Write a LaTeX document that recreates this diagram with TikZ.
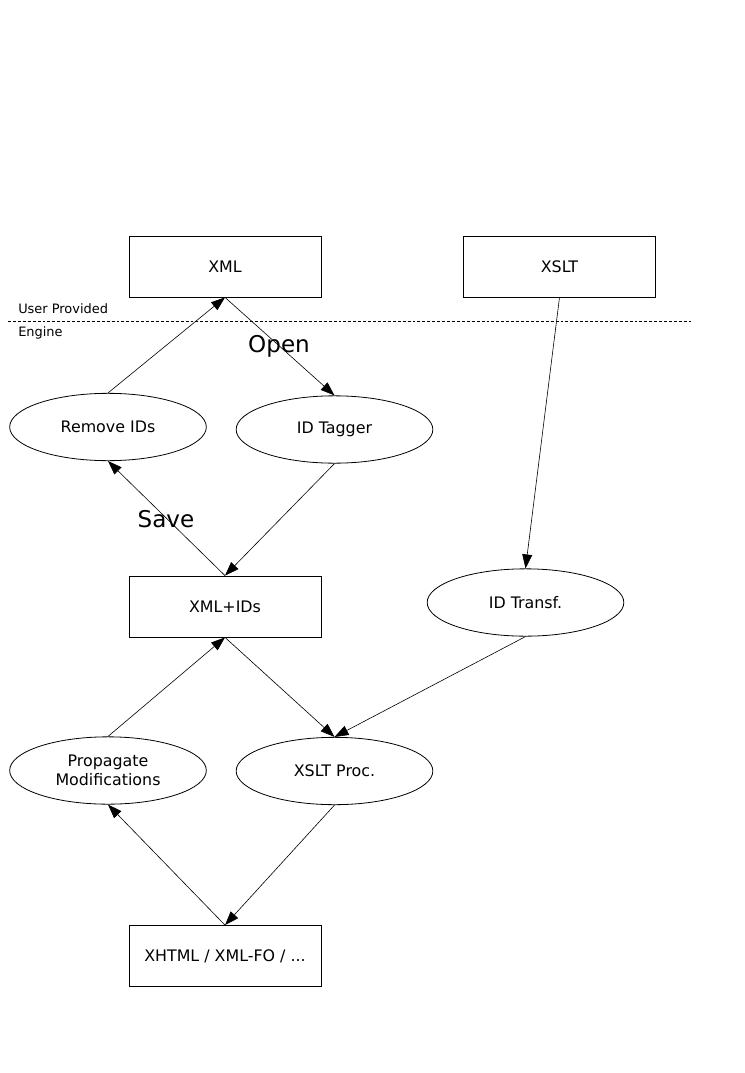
\documentclass[tikz,border=0pt]{standalone}
\usepackage{fontspec}
\setmainfont{DejaVu Sans}
\usetikzlibrary{shapes.geometric,arrows.meta}
\tikzset{
  box/.style={draw, line width=0.6pt, rectangle, minimum width=144pt, minimum height=45.75pt, inner sep=0pt, font=\fontsize{11.9}{13.8}\selectfont},
  oval/.style={draw, line width=0.6pt, ellipse, minimum width=147.5pt, minimum height=50.5pt, inner sep=0pt, align=center, font=\fontsize{11.9}{13.8}\selectfont},
  conn/.style={line width=0.45pt, -{Triangle[length=10.5pt,width=7.5pt]}},
  small/.style={anchor=base west, inner sep=0pt, font=\fontsize{9.7}{11}\selectfont},
  big/.style={font=\fontsize{17.3}{20}\selectfont}
}
\begin{document}
\begin{tikzpicture}[x=0.75pt,y=-0.75pt]
\useasboundingbox (0,0) rectangle (744,1073);
\node[box] (xml) at (225,266.5) {XML};
\node[box] (xslt) at (559.5,266.5) {XSLT};
\coordinate (dl) at (8,321);
\coordinate (dr) at (691,321);
\draw[line width=0.45pt, dash pattern=on 2.2pt off 1.5pt] (dl) -- (dr);
\node[small] (user) at (18,313) {User Provided};
\node[small] (engine) at (18,336) {Engine};
\node[big] (open) at (279,346) {Open};
\node[oval] (remove) at (108,427) {Remove IDs};
\node[oval] (tagger) at (334.5,429.5) {ID Tagger};
\node[big] (save) at (166,519) {Save};
\node[box] (xmlids) at (225,606.5) {XML+IDs};
\node[oval] (transf) at (525.5,602.5) {ID Transf.};
\node[oval] (prop) at (108,770.5) {Propagate\\Modifications};
\node[oval] (proc) at (334.5,771) {XSLT Proc.};
\node[box] (xhtml) at (225,956) {XHTML / XML-FO / ...};

\draw[conn] (remove.north) -- (xml.south);
\draw[conn] (xml.south) -- (tagger.north);
\draw[conn] (tagger.south) -- (xmlids.north);
\draw[conn] (xmlids.north) -- (remove.south);
\draw[conn] (xslt.south) -- (transf.north);
\draw[conn] (xmlids.south) -- (proc.north);
\draw[conn] (transf.south) -- (proc.north);
\draw[conn] (prop.north) -- (xmlids.south);
\draw[conn] (proc.south) -- (xhtml.north);
\draw[conn] (xhtml.north) -- (prop.south);
\end{tikzpicture}
\end{document}
